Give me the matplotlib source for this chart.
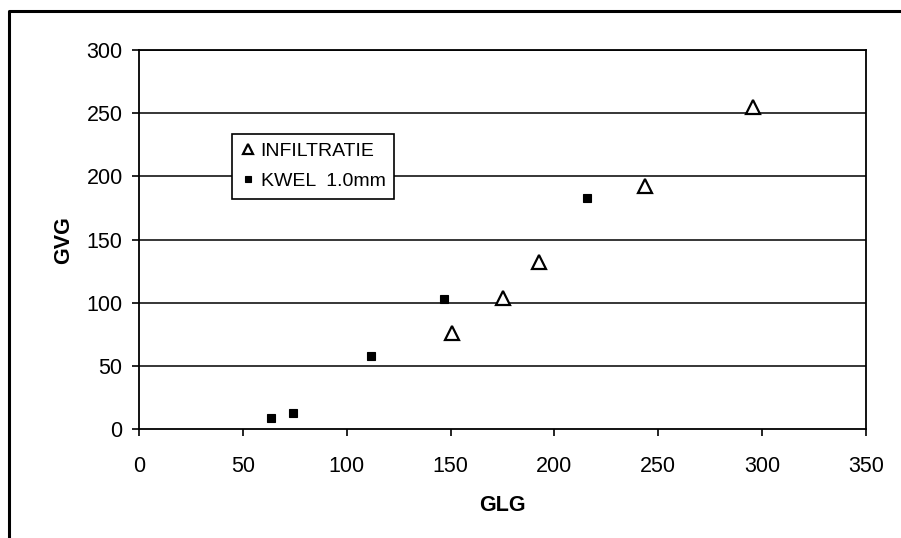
import matplotlib.pyplot as plt
from matplotlib.lines import Line2D

plt.rcParams['font.family'] = ['Liberation Sans', 'DejaVu Sans']

# data
infiltratie_glg = [150.8, 175.4, 192.8, 243.9, 295.9]
infiltratie_gvg = [76.4, 103.5, 132.6, 192.5, 255.2]
kwel_glg = [63.6, 74.1, 111.8, 146.8, 215.9]
kwel_gvg = [9.2, 12.7, 58.0, 102.8, 183.2]
x_ticks = [0, 50, 100, 150, 200, 250, 300, 350]
y_ticks = [0, 50, 100, 150, 200, 250, 300]

W, H = 901, 538
fig = plt.figure(figsize=(W / 100, H / 100), dpi=100)
ax = fig.add_axes([139.3 / W, 1 - 429.3 / H, (865.7 - 139.3) / W, (429.3 - 50) / H])

# horizontal gridlines
for yv in y_ticks[1:]:
    ax.axhline(yv, color='black', lw=1.1, zorder=1)

ax.plot(infiltratie_glg, infiltratie_gvg, linestyle='none', marker='^', ms=9.5,
        mfc='white', mec='black', mew=1.6, label='INFILTRATIE', zorder=3)
ax.plot(kwel_glg, kwel_gvg, linestyle='none', marker='s', ms=6.4,
        mfc='black', mec='black', mew=0.8, label='KWEL  1.0mm', zorder=3)

ax.set_xlim(0, 350)
ax.set_ylim(0, 300)
ax.set_xticks(x_ticks)
ax.set_yticks(y_ticks)
ax.tick_params(axis='both', direction='out', length=5, width=1.2, labelsize=15.5, colors='black')
ax.tick_params(axis='x', pad=14)
ax.tick_params(axis='y', pad=7)
for s in ax.spines.values():
    s.set_linewidth(1.3)
    s.set_color('black')

ax.set_xlabel('GLG', fontsize=15.5, fontweight='bold', labelpad=13)
ax.set_ylabel('GVG', fontsize=15.5, fontweight='bold', labelpad=9)

leg = ax.legend(loc='upper left', bbox_to_anchor=(232.5 / W, 1 - 133.5 / H),
                bbox_transform=fig.transFigure, fontsize=14, frameon=True,
                fancybox=False, framealpha=1, edgecolor='black', borderpad=0.45,
                handlelength=0.7, handletextpad=0.3, labelspacing=0.65,
                borderaxespad=0, markerscale=0.75)
leg.get_frame().set_linewidth(1.2)

# outer chart border (only top and left visible)
fig.add_artist(Line2D([9 / W, 9 / W, 1.0], [0.0, 1 - 11 / H, 1 - 11 / H],
                      transform=fig.transFigure, color='black', lw=2.2))

fig.savefig('out.png', dpi=100)
